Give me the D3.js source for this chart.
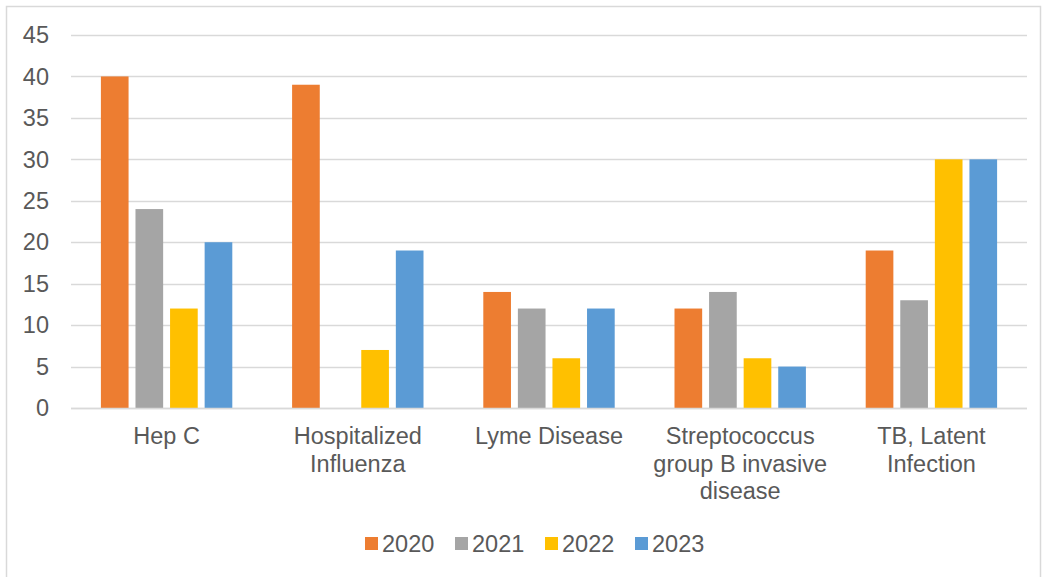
<!DOCTYPE html>
<html>
<head>
<meta charset="utf-8">
<script src="https://cdn.jsdelivr.net/npm/d3@7"></script>
<style>
  body { margin: 0; background: #fff; }
  text { font-family: "Liberation Sans", Arial, sans-serif; fill: #595959; }
</style>
</head>
<body>
<div id="chart"></div>
<script>
// data
const categories = [
  ["Hep C"],
  ["Hospitalized", "Influenza"],
  ["Lyme Disease"],
  ["Streptococcus", "group B invasive", "disease"],
  ["TB, Latent", "Infection"]
];
const years = ["2020", "2021", "2022", "2023"];
const colors = ["#ED7D31", "#A5A5A5", "#FFC000", "#5B9BD5"];
const values2020 = [40, 39, 14, 12, 19];
const values2021 = [24, 0, 12, 14, 13];
const values2022 = [12, 7, 6, 6, 30];
const values2023 = [20, 19, 12, 5, 30];
const yTicks = [0, 5, 10, 15, 20, 25, 30, 35, 40, 45];

const series = [values2020, values2021, values2022, values2023];
const width = 1045, height = 577;
const margin = {left: 71, right: 18, top: 35, bottom: 169};
const fontSize = 23.5;

const svg = d3.select("#chart").append("svg")
  .attr("width", width)
  .attr("height", height);

// chart border
svg.append("rect")
  .attr("x", 6.5).attr("y", 6.5)
  .attr("width", 1034).attr("height", 600)
  .attr("fill", "none")
  .attr("stroke", "#d9d9d9")
  .attr("stroke-width", 1.5);

const x0 = d3.scaleBand()
  .domain(d3.range(categories.length))
  .range([margin.left, width - margin.right])
  .paddingInner(0).paddingOuter(0);

const inset = (x0.bandwidth() - 131.4) / 2;
const x1 = d3.scaleBand()
  .domain(d3.range(years.length))
  .range([inset, x0.bandwidth() - inset])
  .paddingInner(0.2).paddingOuter(0);

const y = d3.scaleLinear()
  .domain([0, 45])
  .range([height - margin.bottom, margin.top]);

// gridlines
svg.append("g")
  .selectAll("line")
  .data(yTicks)
  .join("line")
  .attr("x1", margin.left)
  .attr("x2", width - margin.right)
  .attr("y1", d => Math.round(y(d)) + 0.5)
  .attr("y2", d => Math.round(y(d)) + 0.5)
  .attr("stroke", "#d9d9d9")
  .attr("stroke-width", 1.5);

// y tick labels
svg.append("g")
  .selectAll("text")
  .data(yTicks)
  .join("text")
  .attr("x", 49)
  .attr("y", d => y(d))
  .attr("dy", "0.35em")
  .attr("text-anchor", "end")
  .attr("font-size", fontSize)
  .text(d => d);

// bars
const groups = svg.append("g")
  .selectAll("g")
  .data(categories)
  .join("g")
  .attr("transform", (d, i) => `translate(${x0(i)},0)`);

groups.selectAll("rect")
  .data((d, i) => series.map((s, j) => ({j, v: s[i]})))
  .join("rect")
  .attr("x", d => x1(d.j))
  .attr("width", x1.bandwidth())
  .attr("y", d => y(d.v))
  .attr("height", d => y(0) - y(d.v))
  .attr("fill", d => colors[d.j]);

// redraw baseline on top
svg.append("line")
  .attr("x1", margin.left).attr("x2", width - margin.right)
  .attr("y1", Math.round(y(0)) + 0.5).attr("y2", Math.round(y(0)) + 0.5)
  .attr("stroke", "#d9d9d9").attr("stroke-width", 1.5);

// category labels
svg.append("g")
  .selectAll("text")
  .data(categories)
  .join("text")
  .attr("x", (d, i) => x0(i) + x0.bandwidth() / 2)
  .attr("y", 444)
  .attr("text-anchor", "middle")
  .attr("font-size", fontSize)
  .selectAll("tspan")
  .data(d => d)
  .join("tspan")
  .attr("x", function() { return this.parentNode.getAttribute("x"); })
  .attr("dy", (d, i) => i === 0 ? 0 : 27.5)
  .text(d => d);

// legend
const legend = svg.append("g")
  .selectAll("g")
  .data(years)
  .join("g")
  .attr("transform", (d, i) => `translate(${365 + i * 90},537)`);

legend.append("rect")
  .attr("width", 13).attr("height", 13)
  .attr("fill", (d, i) => colors[i]);

legend.append("text")
  .attr("x", 17)
  .attr("y", 6.5)
  .attr("dy", "0.35em")
  .attr("font-size", fontSize)
  .text(d => d);
</script>
</body>
</html>
